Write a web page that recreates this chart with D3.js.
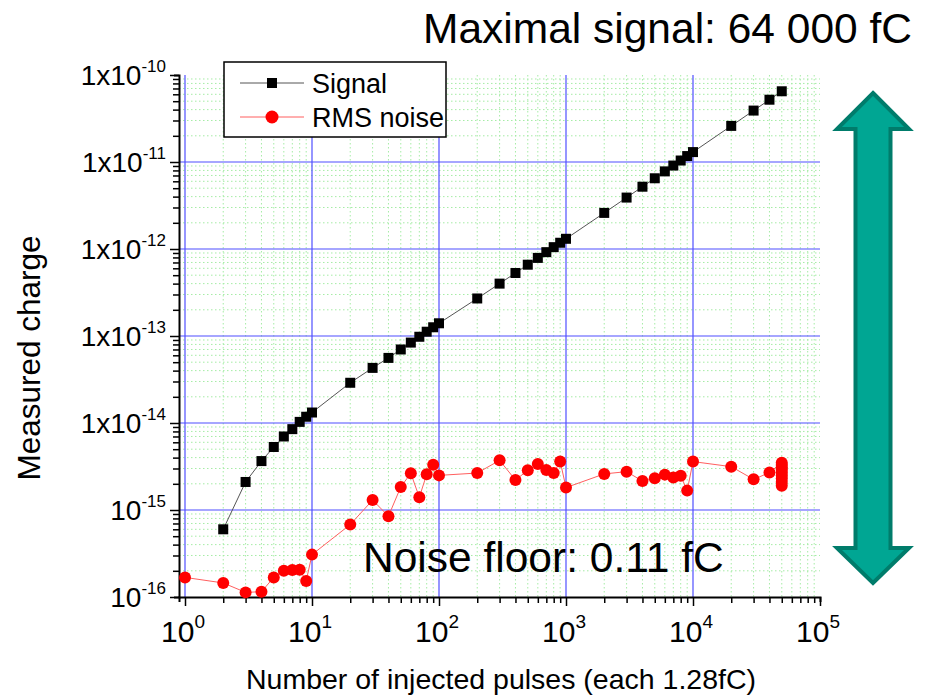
<!DOCTYPE html>
<html>
<head>
<meta charset="utf-8">
<script src="https://cdn.jsdelivr.net/npm/d3@7"></script>
<style>
    body { margin: 0; background: #fff; }
    text { font-family: "Liberation Sans", Arial, sans-serif; fill: #000; }
    .narrow { font-family: "Liberation Sans Narrow", "Liberation Sans", Arial, sans-serif; }
</style>
</head>
<body>
<svg id="chart" width="930" height="697"></svg>
<script>
// number of injected pulses for the signal series
const pulses = [2, 3, 4, 5, 6, 7, 8, 9, 10,
    20, 30, 40, 50, 60, 70, 80, 90, 100,
    200, 300, 400, 500, 600, 700, 800, 900, 1000,
    2000, 3000, 4000, 5000, 6000, 7000, 8000, 9000, 10000,
    20000, 30000, 40000, 50000]
// measured charge (C)
const signalCharge = [6.0e-16, 2.1e-15, 3.65e-15, 5.3e-15, 7.0e-15, 8.5e-15, 1.03e-14, 1.18e-14, 1.32e-14,
    2.9e-14, 4.3e-14, 5.6e-14, 7.0e-14, 8.4e-14, 9.8e-14, 1.12e-13, 1.26e-13, 1.4e-13,
    2.7e-13, 4.0e-13, 5.3e-13, 6.6e-13, 7.9e-13, 9.2e-13, 1.05e-12, 1.18e-12, 1.31e-12,
    2.6e-12, 3.9e-12, 5.2e-12, 6.5e-12, 7.8e-12, 9.1e-12, 1.04e-11, 1.17e-11, 1.3e-11,
    2.6e-11, 3.9e-11, 5.2e-11, 6.5e-11]

const noisePulses = [1, 2, 3, 4, 5, 6, 7, 8, 9, 10,
    20, 30, 40, 50, 60, 70, 80, 90, 100,
    200, 300, 400, 500, 600, 700, 800, 900, 1000,
    2000, 3000, 4000, 5000, 6000, 7000, 8000, 9000, 10000,
    20000, 30000, 40000, 50000, 50000, 50000, 50000, 50000, 50000, 50000, 50000, 50000]
const noiseCharge = [1.68e-16, 1.45e-16, 1.13e-16, 1.15e-16, 1.68e-16, 2.0e-16, 2.04e-16, 2.06e-16, 1.53e-16, 3.07e-16,
    6.8e-16, 1.3e-15, 8.5e-16, 1.84e-15, 2.64e-15, 1.4e-15, 2.57e-15, 3.32e-15, 2.5e-15,
    2.66e-15, 3.72e-15, 2.21e-15, 2.86e-15, 3.38e-15, 2.88e-15, 2.66e-15, 3.62e-15, 1.81e-15,
    2.6e-15, 2.76e-15, 2.15e-15, 2.31e-15, 2.55e-15, 2.37e-15, 2.48e-15, 1.67e-15, 3.6e-15,
    3.15e-15, 2.25e-15, 2.69e-15, 3.5e-15, 3.3e-15, 3.1e-15, 2.9e-15, 2.7e-15, 2.5e-15, 2.3e-15, 2.1e-15, 1.9e-15]

const xExponents = [0, 1, 2, 3, 4, 5]
const yExponents = [-10, -11, -12, -13, -14, -15, -16]
const seriesNames = ['Signal', 'RMS noise']

const titleText = 'Maximal signal: 64 000 fC'
const floorText = 'Noise floor: 0.11 fC'
const xTitle = 'Number of injected pulses (each 1.28fC)'
const yTitle = 'Measured charge'

let svg = d3.select('#chart')

// plot box: y axis line sits a bit left of 10^0
let plotLeft = 179, plotRight = 820, plotTop = 75, plotBottom = 597
let x = d3.scaleLog().domain([Math.pow(10, -6 / 127), 1e5]).range([plotLeft, plotRight])
let y = d3.scaleLog().domain([1e-16, 1e-10]).range([plotBottom, plotTop])

// minor values (2..9 of each decade)
let minorX = []
for (let e = 0; e < 5; e++) for (let m = 2; m <= 9; m++) minorX.push(m * Math.pow(10, e))
let minorY = []
for (let e = -16; e < -10; e++) for (let m = 2; m <= 9; m++) minorY.push(m * Math.pow(10, e))

let grid = svg.append('g')
grid.selectAll('.minor-x').data(minorX).enter().append('line')
    .attr('x1', d => x(d)).attr('x2', d => x(d))
    .attr('y1', plotTop).attr('y2', plotBottom)
    .attr('stroke', '#a6eca6').attr('stroke-dasharray', '1.5,2.5')
grid.selectAll('.minor-y').data(minorY).enter().append('line')
    .attr('x1', plotLeft).attr('x2', plotRight)
    .attr('y1', d => y(d)).attr('y2', d => y(d))
    .attr('stroke', '#a6eca6').attr('stroke-dasharray', '1.5,2.5')

// major blue grid
grid.selectAll('.major-x').data(xExponents.slice(0, 5)).enter().append('line')
    .attr('x1', d => x(Math.pow(10, d))).attr('x2', d => x(Math.pow(10, d)))
    .attr('y1', plotTop).attr('y2', plotBottom)
    .attr('stroke', '#4f4fff').attr('stroke-width', 1.2)
grid.selectAll('.major-y').data(yExponents.slice(1, 6)).enter().append('line')
    .attr('x1', plotLeft).attr('x2', plotRight)
    .attr('y1', d => y(Math.pow(10, d))).attr('y2', d => y(Math.pow(10, d)))
    .attr('stroke', '#4f4fff').attr('stroke-width', 1.2)

// axes
let xAxis = d3.axisBottom(x).tickValues(minorX.concat(xExponents.map(e => Math.pow(10, e))))
    .tickFormat('').tickSizeOuter(0)
    .tickSize(5)
let gx = svg.append('g').attr('transform', `translate(0,${plotBottom})`).call(xAxis)
gx.selectAll('.tick line')
    .attr('y2', d => Number.isInteger(Math.log10(d)) ? 9 : 6)
    .attr('stroke-width', 1.5)
gx.select('.domain').attr('stroke-width', 2)

let yAxis = d3.axisLeft(y).tickValues(minorY.concat(yExponents.map(e => Math.pow(10, e))))
    .tickFormat('').tickSizeOuter(0)
    .tickSize(5)
let gy = svg.append('g').attr('transform', `translate(${plotLeft},0)`).call(yAxis)
gy.selectAll('.tick line')
    .attr('x2', d => Math.abs(Math.log10(d) - Math.round(Math.log10(d))) < 1e-9 ? -9 : -6)
    .attr('stroke-width', 1.5)
gy.select('.domain').attr('stroke-width', 2)

// tick labels with superscripts
let xLabels = svg.append('g').selectAll('text').data(xExponents).enter().append('text')
    .attr('class', 'narrow')
    .attr('x', d => x(Math.pow(10, d)) - 2)
    .attr('y', 642)
    .attr('text-anchor', 'middle')
    .style('font-size', '30px')
xLabels.append('tspan').text('10')
xLabels.append('tspan').attr('dy', -14).style('font-size', '19px').text(d => d)

let yLabels = svg.append('g').selectAll('text').data(yExponents).enter().append('text')
    .attr('x', 166)
    .attr('y', d => y(Math.pow(10, d)) + 10)
    .attr('text-anchor', 'end')
    .style('font-size', '28px')
yLabels.append('tspan').text(d => d >= -14 ? '1x10' : '10')
yLabels.append('tspan').attr('dy', -13).style('font-size', '17px').text(d => d)

// axis titles
svg.append('text').attr('x', 501).attr('y', 689).attr('text-anchor', 'middle')
    .style('font-size', '28.5px').text(xTitle)
svg.append('text').attr('transform', 'translate(40,358) rotate(-90)').attr('text-anchor', 'middle')
    .style('font-size', '31.5px').text(yTitle)

// series
let signalData = pulses.map((p, i) => [p, signalCharge[i]])
let noiseData = noisePulses.map((p, i) => [p, noiseCharge[i]])
let line = d3.line().x(d => x(d[0])).y(d => y(d[1]))

svg.append('path').datum(signalData).attr('d', line)
    .attr('fill', 'none').attr('stroke', '#555').attr('stroke-width', 1)
svg.append('path').datum(noiseData).attr('d', line)
    .attr('fill', 'none').attr('stroke', '#ff5f5f').attr('stroke-width', 1)

svg.append('g').selectAll('rect').data(signalData).enter().append('rect')
    .attr('x', d => x(d[0]) - 5).attr('y', d => y(d[1]) - 5)
    .attr('width', 10).attr('height', 10).attr('fill', '#000')
svg.append('g').selectAll('circle').data(noiseData).enter().append('circle')
    .attr('cx', d => x(d[0])).attr('cy', d => y(d[1])).attr('r', 6)
    .attr('fill', '#ff0000')

// legend
let legend = svg.append('g')
legend.append('rect').attr('x', 224).attr('y', 62).attr('width', 222).attr('height', 75)
    .attr('fill', '#fff').attr('stroke', '#000').attr('stroke-width', 1.5)
let rows = legend.selectAll('.row').data(seriesNames).enter().append('g')
    .attr('transform', (d, i) => `translate(0,${83 + i * 34})`)
rows.append('line').attr('x1', 240).attr('x2', 304)
    .attr('stroke', (d, i) => i ? '#ff5f5f' : '#555').attr('stroke-width', 1)
rows.filter((d, i) => i == 0).append('rect')
    .attr('x', 267).attr('y', -5).attr('width', 10).attr('height', 10).attr('fill', '#000')
rows.filter((d, i) => i == 1).append('circle')
    .attr('cx', 272).attr('r', 6.5).attr('fill', '#ff0000')
rows.append('text').attr('x', 312).attr('y', 10).style('font-size', '27px').text(d => d)

// annotations
svg.append('text').attr('x', 912).attr('y', 43).attr('text-anchor', 'end')
    .style('font-size', '42.5px').text(titleText)
svg.append('text').attr('x', 363).attr('y', 572)
    .style('font-size', '42.5px').text(floorText)

// double arrow on the right
let cx = 873, shaft = 17.5, head = 36
let arrowPts = [[cx, 93], [cx + head, 129], [cx + shaft, 129], [cx + shaft, 548], [cx + head, 548],
    [cx, 583], [cx - head, 548], [cx - shaft, 548], [cx - shaft, 129], [cx - head, 129]]
svg.append('polygon').attr('points', arrowPts.map(p => p.join(',')).join(' '))
    .attr('fill', '#00a693').attr('stroke', '#007c6b').attr('stroke-width', 4)
    .attr('stroke-linejoin', 'miter')
</script>
</body>
</html>
